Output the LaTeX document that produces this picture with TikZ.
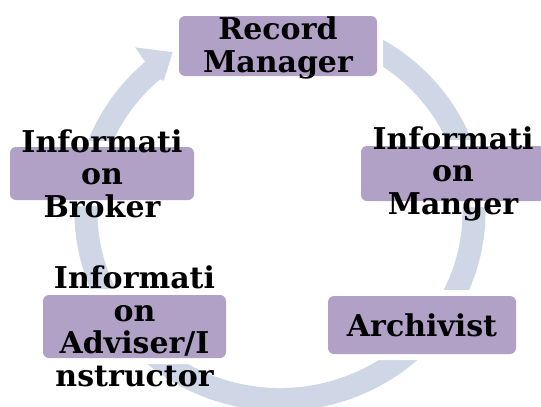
\documentclass[tikz,border=0pt]{standalone}
\usepackage{fontspec}
\setmainfont{DejaVu Serif}
\begin{document}
\begin{tikzpicture}[x=1pt,y=1pt]
\definecolor{boxfill}{RGB}{178,161,199}
\definecolor{ringcol}{RGB}{207,214,230}
\tikzset{
 stepbox/.style={rounded corners=6pt, fill=boxfill, inner sep=0pt, preaction={draw=white, line width=12pt}},
 lbl/.style={font=\fontsize{30}{32.5}\selectfont\bfseries, align=center, inner sep=0pt, text=black}
}
\useasboundingbox (0,0) rectangle (541,-407);
\coordinate (c) at (280,-212);
\draw[ringcol, line width=23pt] ([shift={(80:194 and 187.5)}]c) arc[start angle=80, end angle=-229.5, x radius=194, y radius=187.5];
\fill[ringcol] ([shift={(132:205.5 and 199)}]c) -- ([shift={(131:205.5 and 199)}]c) -- ([shift={(130.5:223 and 216.5)}]c) -- ([shift={(123:197 and 190.5)}]c) -- ([shift={(130.5:179 and 172.5)}]c) -- ([shift={(131:182.5 and 176)}]c) -- ([shift={(132:182.5 and 176)}]c) -- cycle;
% boxes
\node[stepbox, minimum width=198pt, minimum height=60pt] (rm) at (278,-46) {};
\node[stepbox, minimum width=184pt, minimum height=53pt] (ib) at (102,-173.5) {};
\node[stepbox, minimum width=184pt, minimum height=55pt] (im) at (453,-173.5) {};
\node[stepbox, minimum width=188pt, minimum height=58pt] (ar) at (422,-325) {};
\node[stepbox, minimum width=183pt, minimum height=63pt] (ad) at (134.5,-326.5) {};
% labels
\node[lbl] (rmt) at ([yshift=-2pt]rm) {Record\\Manager};
\node[lbl] (ibt) at (ib) {Informati\\on\\Broker};
\node[lbl] (imt) at (im) {Informati\\on\\Manger};
\node[lbl] (art) at (ar) {Archivist};
\node[lbl] (adt) at (ad) {Informati\\on\\Adviser/I\\nstructor};
\end{tikzpicture}
\end{document}
